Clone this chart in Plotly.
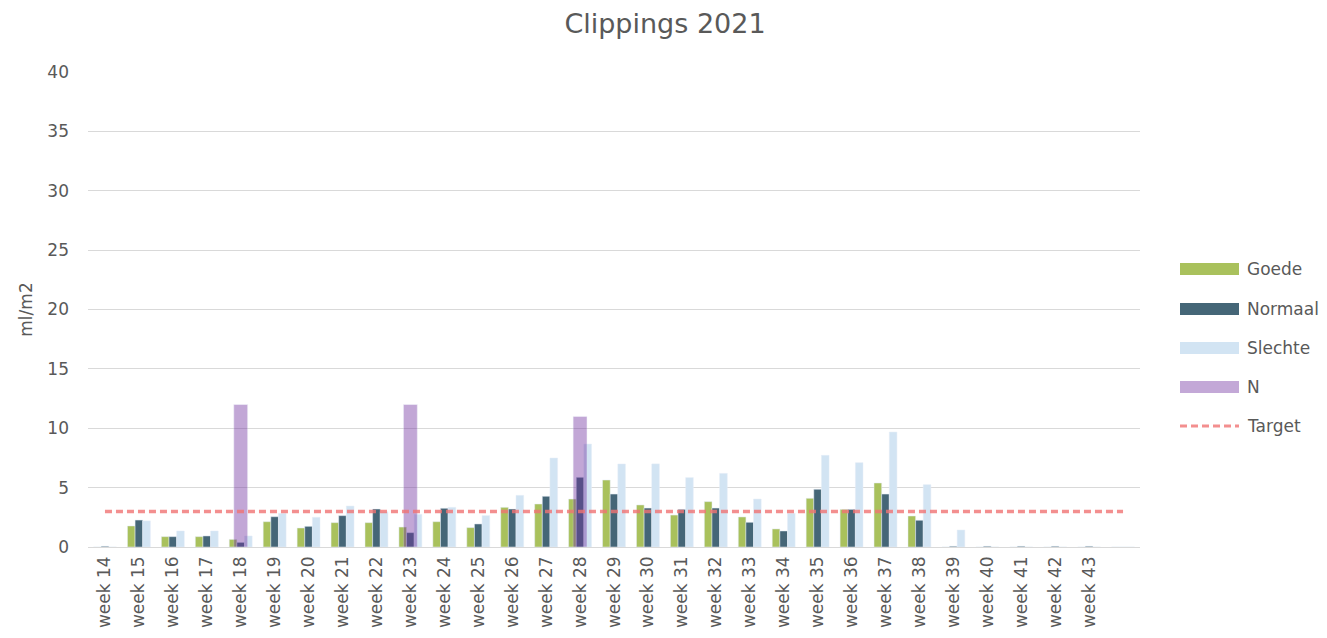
import plotly.graph_objects as go

weeks = [f"week {w}" for w in range(14, 44)] + [""]

goede = [0, 1.77, 0.87, 0.87, 0.64, 2.13, 1.60, 2.05, 2.05, 1.68,
         2.13, 1.63, 3.34, 3.62, 4.04, 5.64, 3.54, 2.69, 3.82, 2.53,
         1.52, 4.10, 3.17, 5.39, 2.61, 0, 0, 0, 0, 0, 0]
normaal = [0.06, 2.27, 0.87, 0.93, 0.39, 2.55, 1.74, 2.64, 3.20, 1.21,
           3.26, 1.94, 3.20, 4.27, 5.87, 4.46, 3.28, 3.17, 3.28, 2.08,
           1.35, 4.86, 3.17, 4.46, 2.25, 0.06, 0.06, 0.06, 0.06, 0.06, 0]
slechte = [0, 2.20, 1.35, 1.35, 0.93, 2.83, 2.50, 3.45, 2.97, 2.75,
           3.34, 2.64, 4.35, 7.49, 8.67, 6.99, 7.00, 5.84, 6.20, 4.04,
           2.83, 7.72, 7.10, 9.68, 5.25, 1.43, 0, 0, 0, 0, 0]
n_vals = [None, None, None, None, 12.0, None, None, None, None, 12.0,
          None, None, None, None, 11.0, None, None, None, None, None,
          None, None, None, None, None, None, None, None, None, None, None]
target = [3] * len(weeks)

x = list(range(len(weeks)))
FONT = "DejaVu Sans"
GREY = "#595959"
C_GOEDE, C_NORM, C_SLECHT, C_N = "#A9C15C", "#456677", "#D2E4F3", "#7030A0"
C_TARGET = "rgba(240,115,115,0.8)"
DASH = "7px,4px"

fig = go.Figure()
bw = 0.225
fig.add_trace(go.Bar(x=x, y=goede, name="Goede", marker_color=C_GOEDE,
                     width=bw, offset=-1.5 * bw))
fig.add_trace(go.Bar(x=x, y=normaal, name="Normaal", marker_color=C_NORM,
                     width=bw, offset=-0.5 * bw))
fig.add_trace(go.Bar(x=x, y=slechte, name="Slechte", marker_color=C_SLECHT,
                     width=bw, offset=0.5 * bw))
fig.add_trace(go.Bar(x=x, y=n_vals, name="N", marker_color=C_N,
                     opacity=0.42, width=0.41, offset=-0.205))
fig.add_trace(go.Scatter(x=x, y=target, name="Target", mode="lines",
                         line=dict(color=C_TARGET, width=3.5, dash=DASH)))

# custom legend (wide swatches like the original)
W, H = 1319, 630
ML, MR, MT, MB = 80, 187, 64, 91
pw, ph = W - ML - MR, H - MT - MB
def px(xp):  # page-x (accounting for 8px body margin) -> paper
    return (xp - 8 - ML) / pw
def py(yp):
    return (H - MB - (yp - 8)) / ph

legend_items = [("Goede", C_GOEDE, 1.0), ("Normaal", C_NORM, 1.0),
                ("Slechte", C_SLECHT, 1.0), ("N", C_N, 0.42)]
ys = [269, 309, 348, 387, 426]
shapes, annots = [], []
for (name, col, op), yc in zip(legend_items, ys):
    shapes.append(dict(type="rect", xref="paper", yref="paper",
                       x0=px(1180), x1=px(1239), y0=py(yc + 6), y1=py(yc - 6),
                       fillcolor=col, opacity=op, line=dict(width=0)))
    annots.append(dict(text=name, xref="paper", yref="paper", x=px(1245), y=py(yc),
                       xanchor="left", yanchor="middle", showarrow=False,
                       font=dict(family=FONT, size=17, color=GREY)))
shapes.append(dict(type="line", xref="paper", yref="paper",
                   x0=px(1180), x1=px(1239), y0=py(ys[4]), y1=py(ys[4]),
                   line=dict(color=C_TARGET, width=3, dash=DASH)))
annots.append(dict(text="Target", xref="paper", yref="paper", x=px(1245), y=py(ys[4]),
                   xanchor="left", yanchor="middle", showarrow=False,
                   font=dict(family=FONT, size=17, color=GREY)))

fig.update_layout(
    width=W, height=H,
    paper_bgcolor="white", plot_bgcolor="white",
    barmode="overlay", showlegend=False,
    title=dict(text="Clippings 2021", x=px(665), xanchor="center", xref="paper",
               y=1 - (24 - 8) / H, yanchor="middle",
               font=dict(family=FONT, size=27, color=GREY)),
    margin=dict(l=ML, r=MR, t=MT, b=MB),
    font=dict(family=FONT, size=17, color=GREY),
    shapes=shapes, annotations=annots,
    xaxis=dict(tickmode="array", tickvals=x, ticktext=weeks, range=[-0.5, len(weeks) - 0.5],
               tickangle=-90, showgrid=False, zeroline=False, showline=False, ticks="",
               ticklabelstandoff=5, automargin=False,
               tickfont=dict(family=FONT, size=17, color=GREY)),
    yaxis=dict(range=[0, 40], dtick=5, showgrid=True, gridcolor="#D9D9D9", gridwidth=1,
               zeroline=True, zerolinecolor="#D9D9D9", zerolinewidth=1,
               ticks="", ticklabelstandoff=18, automargin=False,
               title=dict(text="ml/m2", font=dict(family=FONT, size=17, color=GREY), standoff=10),
               tickfont=dict(family=FONT, size=17, color=GREY)),
)

fig.write_html("out.html")
